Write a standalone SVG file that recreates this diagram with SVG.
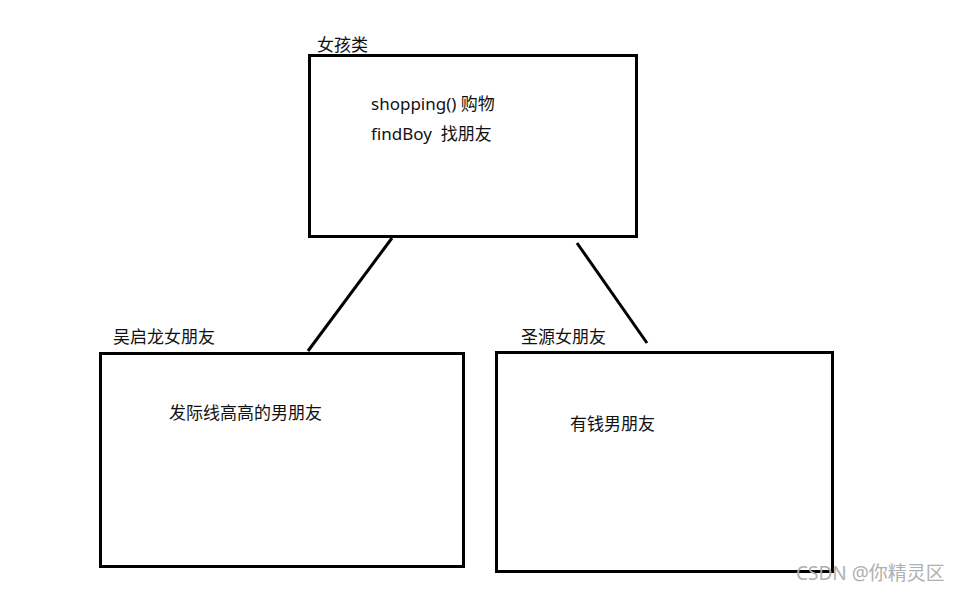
<svg xmlns="http://www.w3.org/2000/svg" width="963" height="590" viewBox="0 0 963 590">
<style>
.box{fill:#fff;stroke:#000;stroke-width:3}
.conn{stroke:#000;stroke-width:3;fill:none}
.t{font-family:"Microsoft YaHei","Noto Sans","Noto Sans CJK SC",sans-serif;font-size:17px;fill:#111;white-space:pre}
.wm{font-family:"Noto Sans","Noto Sans CJK SC",sans-serif;font-size:19px;fill:#b0b0b0}
</style>
<rect width="963" height="590" fill="#fff"/>
<g id="connectors">
<line class="conn" x1="392" y1="238" x2="308" y2="351"/>
<line class="conn" x1="577" y1="243" x2="647" y2="343"/>
</g>
<g id="girl">
<text class="t" x="317" y="51">女孩类</text>
<rect class="box" x="309.5" y="55.5" width="327" height="181"/>
<text class="t" x="371" y="110">shopping() 购物</text>
<text class="t" x="371" y="140" xml:space="preserve">findBoy  找朋友</text>
</g>
<g id="wu">
<text class="t" x="113" y="343">吴启龙女朋友</text>
<rect class="box" x="100.5" y="353.5" width="363" height="213"/>
<text class="t" x="169" y="419">发际线高高的男朋友</text>
</g>
<g id="sheng">
<text class="t" x="521" y="343">圣源女朋友</text>
<rect class="box" x="496.5" y="352.5" width="336" height="219"/>
<text class="t" x="570" y="430">有钱男朋友</text>
</g>
<text class="wm" x="796" y="580">CSDN @你精灵区</text>
</svg>
